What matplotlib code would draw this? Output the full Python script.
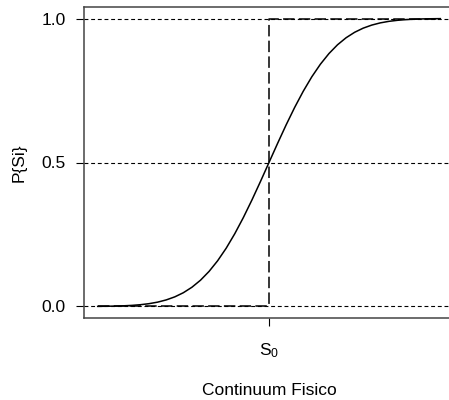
import matplotlib
matplotlib.use("Agg")
import matplotlib.pyplot as plt

plt.rcParams['font.family'] = ['Liberation Sans', 'DejaVu Sans']
plt.rcParams['mathtext.fontset'] = 'custom'
plt.rcParams['mathtext.rm'] = 'Liberation Sans'
plt.rcParams['mathtext.it'] = 'Liberation Sans'

# Psychometric curve
x_vals = [-5.0, -4.75, -4.5, -4.25, -4.0, -3.75, -3.5, -3.25, -3.0, -2.75, -2.5,
          -2.25, -2.0, -1.75, -1.5, -1.25, -1.0, -0.75, -0.5, -0.25, 0.0,
          0.25, 0.5, 0.75, 1.0, 1.25, 1.5, 1.75, 2.0, 2.25, 2.5,
          2.75, 3.0, 3.25, 3.5, 3.75, 4.0, 4.25, 4.5, 4.75, 5.0]
p_vals = [0.0004, 0.0008, 0.0013, 0.0023, 0.0038, 0.0062, 0.0098, 0.0151, 0.0228, 0.0334, 0.0478,
          0.0668, 0.0912, 0.1217, 0.1587, 0.2023, 0.2525, 0.3085, 0.3694, 0.4338, 0.5,
          0.5662, 0.6306, 0.6915, 0.7475, 0.7977, 0.8413, 0.8783, 0.9088, 0.9332, 0.9522,
          0.9666, 0.9772, 0.9849, 0.9902, 0.9938, 0.9962, 0.9977, 0.9987, 0.9992, 0.9996]

# Ideal step function
step_x = [-5.0, 0.0, 0.0, 5.0]
step_y = [0.0, 0.0, 1.0, 1.0]

ref_levels = [0.0, 0.5, 1.0]
y_ticks = [0.0, 0.5, 1.0]
y_ticklabels = ["0.0", "0.5", "1.0"]
x_ticks = [0.0]
x_ticklabels = [r"$\mathregular{S_0}$"]

fig = plt.figure(figsize=(4.49, 4.0), dpi=100)
ax = fig.add_axes([84/449, 82/400, 370/449, 311/400])

for lv in ref_levels:
    ax.axhline(lv, color='black', lw=0.8, linestyle=(0, (3.5, 2.5)))

ax.plot(x_vals, p_vals, color='black', lw=1.1)
ax.plot(step_x, step_y, color='black', lw=1.1, linestyle=(0, (7.5, 2.8)))

ax.set_xlim(-5.4, 5.4)
ax.set_ylim(-0.04, 1.04)
ax.set_yticks(y_ticks)
ax.set_yticklabels(y_ticklabels)
ax.set_xticks(x_ticks)
ax.set_xticklabels(x_ticklabels)
ax.tick_params(axis='both', length=6, width=0.8, labelsize=12.5, direction='out')
ax.tick_params(axis='y', pad=7)
ax.tick_params(axis='x', pad=11)
for s in ax.spines.values():
    s.set_linewidth(1.1)
    s.set_color('#444444')

ax.set_ylabel("P{Si}", fontsize=12.5, labelpad=11)
ax.set_xlabel("Continuum Fisico", fontsize=12.5, labelpad=16)

fig.savefig("out.png", dpi=100)
